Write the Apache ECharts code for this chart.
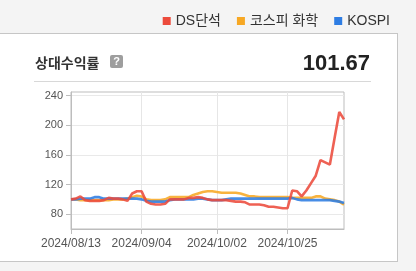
<!DOCTYPE html>
<html><head><meta charset="utf-8">
<script src="https://cdn.jsdelivr.net/npm/echarts@6/dist/echarts.min.js"></script>
<style>
html,body{margin:0;padding:0;width:416px;height:271px;background:#f4f4f4;overflow:hidden;}
#panel{position:absolute;left:-1px;top:33px;width:397px;height:227px;background:#fff;border:1px solid #c6c6c6;}
#chart{position:absolute;left:0;top:0;width:416px;height:271px;}
</style></head>
<body><div id="panel"></div><div id="chart"></div>
<script>
const dates = ['2024/08/13','2024/08/14','2024/08/16','2024/08/19','2024/08/20','2024/08/21','2024/08/22','2024/08/23','2024/08/26','2024/08/27','2024/08/28','2024/08/29','2024/08/30','2024/09/02','2024/09/03','2024/09/04','2024/09/05','2024/09/06','2024/09/09','2024/09/10','2024/09/11','2024/09/12','2024/09/13','2024/09/19','2024/09/20','2024/09/23','2024/09/24','2024/09/25','2024/09/26','2024/09/27','2024/09/30','2024/10/02','2024/10/04','2024/10/07','2024/10/08','2024/10/10','2024/10/11','2024/10/14','2024/10/15','2024/10/16','2024/10/17','2024/10/18','2024/10/21','2024/10/22','2024/10/23','2024/10/24','2024/10/25','2024/10/28','2024/10/29','2024/10/30','2024/10/31','2024/11/01','2024/11/04','2024/11/05','2024/11/06','2024/11/07','2024/11/08','2024/11/11','2024/11/12'];
const dsDanseok = [100,101,104,99,98,98,98,99,102,101, 101,100,98,108,111,111,97,94,93,93, 94,100,100,100,100,102,102,103,102,100, 99,99,99,99,98,97,97,96,93,93, 93,92,90,90,89,88,88,112,111,104, 112,122,132,153,150,147,183,218,208];
const kospiChem = [100,100,99,99,99,99,99,99,99,100, 100,100,101,103,105,104,100,99,99,99, 100,103,103,103,103,103,106,108,110,111, 111,110,109,109,109,109,108,106,104,104, 103,103,103,103,103,103,103,102,102,102, 102,102,104,104,101,100,99,97,93];
const kospi = [100,100,101,101,101,103,103,101,101,101, 101,101,101,101,101,100,98,97,97,97, 97,99,100,100,100,100,100,101,101,100, 99,99,99,100,101,101,101,101,101,101, 101,101,101,101,101,101,101,102,100,99, 99,99,99,99,99,99,98,97,95];
const seriesNames = ['DS단석','코스피 화학','KOSPI'];
const seriesColors = ['#ec4b3c','#f7a824','#2e7de3'];
const yTicks = [80,120,160,200,240];
const xLabelDates = ['2024/08/13','2024/09/04','2024/10/02','2024/10/25'];
const titleText = '상대수익률';
const valueText = '101.67';

const font = '"Liberation Sans", Arial, "Noto Sans CJK KR", sans-serif';
const showIdx = (i) => xLabelDates.indexOf(dates[i]) >= 0;
const chart = echarts.init(document.getElementById('chart'));
const data = [dsDanseok, kospiChem, kospi];
chart.setOption({
  animation:false,
  textStyle:{fontFamily:font},
  legend:{
    right:21, top:9, icon:'rect', itemWidth:8, itemHeight:8, itemGap:16,
    textStyle:{fontSize:14, color:'#333', fontFamily:font},
    data: seriesNames
  },
  title:[
    {text:titleText, left:30, top:52, textStyle:{fontSize:14, fontWeight:'bold', color:'#333', fontFamily:font}},
    {text:valueText, right:41, top:48, textStyle:{fontSize:22, fontWeight:'bold', color:'#222', fontFamily:font}}
  ],
  graphic:[
    {type:'rect', shape:{x:110, y:55, width:13, height:13, r:2}, style:{fill:'#9e9e9e'}},
    {type:'text', x:116.5, y:61.5, style:{text:'?', fill:'#fff', font:'bold 11px '+font, align:'center', verticalAlign:'middle'}},
    {type:'line', shape:{x1:34, y1:81.5, x2:371, y2:81.5}, style:{stroke:'#d8d8d8', lineWidth:1}}
  ],
  grid:{left:71, right:72, top:92, bottom:42, show:true, borderColor:'#bdbdbd', borderWidth:1},
  xAxis:{
    type:'category', data:dates, boundaryGap:false,
    axisLine:{lineStyle:{color:'#bdbdbd'}},
    axisTick:{interval:showIdx, length:5, lineStyle:{color:'#bdbdbd'}},
    axisLabel:{interval:showIdx, fontSize:12, color:'#555', margin:9, fontFamily:font},
    splitLine:{show:true, interval:showIdx, lineStyle:{color:'#e6e6e6'}}
  },
  yAxis:{
    type:'value', min:60, max:245,
    axisLine:{show:true, lineStyle:{color:'#bdbdbd'}},
    axisTick:{show:true, length:5, customValues:yTicks, lineStyle:{color:'#bdbdbd'}},
    axisLabel:{customValues:yTicks, fontSize:11, color:'#555', margin:8, fontFamily:font},
    splitLine:{show:true, lineStyle:{color:'#e9e9e9'}}
  },
  series: seriesNames.map((n,k)=>({
    name:n, type:'line', data:data[k], showSymbol:false, symbol:'none',
    color:seriesColors[k],
    lineStyle:{width:2.6, color:seriesColors[k], opacity:0.88},
    z: [3,2,2][k]
  }))
});
</script></body></html>
